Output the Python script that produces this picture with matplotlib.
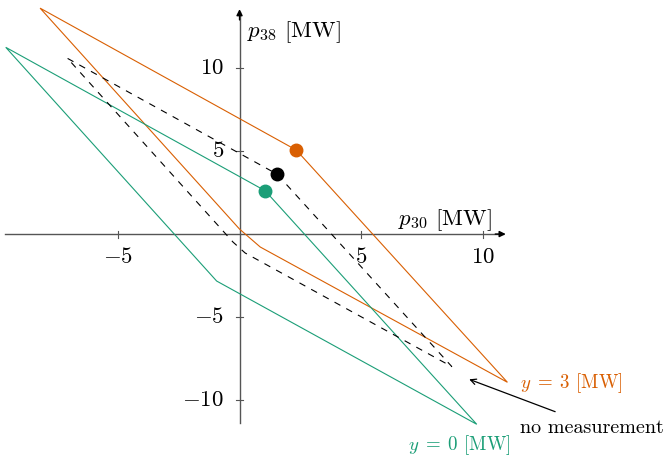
import matplotlib
matplotlib.use("Agg")
import matplotlib.pyplot as plt
import numpy as np

plt.rcParams['mathtext.fontset'] = 'cm'
plt.rcParams['font.family'] = 'serif'
plt.rcParams['font.serif'] = ['cmr10']

# feasible regions (p30, p38) for the two measurements and for no measurement
orange_x = [-8.19, 2.33, 11.0, 0.85, 0.0]
orange_y = [13.61, 5.06, -8.93, -0.78, 0.3]
green_x = [-9.6, 1.05, 9.74, -0.94]
green_y = [11.25, 2.61, -11.46, -2.83]
none_x = [-7.06, 1.54, 8.72, 0.23, -0.27]
none_y = [10.58, 3.61, -7.99, -1.14, -0.48]

# operating points
dot_x = [2.33, 1.05, 1.54]
dot_y = [5.06, 2.61, 3.61]

xticks = [-5, 5, 10]
yticks = [-10, -5, 5, 10]

orange = '#d95f02'
green = '#1b9e77'
axcol = '#555555'

fig = plt.figure(figsize=(6.65, 4.58), dpi=100)
ax = fig.add_axes([0, 0, 1, 1])
ax.set_xlim(-9.836, 17.47)
ax.set_ylim(-13.49, 14.10)
ax.axis('off')

# axes with arrows
ax.plot([-9.63, 10.8], [0, 0], color=axcol, lw=1.0, zorder=1)
ax.plot([0, 0], [-11.39, 13.4], color=axcol, lw=1.0, zorder=1)
ax.annotate('', xy=(10.93, 0), xytext=(10.5, 0),
            arrowprops=dict(arrowstyle='-|>', color='black', lw=1.0,
                            mutation_scale=9, shrinkA=0, shrinkB=0))
ax.annotate('', xy=(0, 13.55), xytext=(0, 12.9),
            arrowprops=dict(arrowstyle='-|>', color='black', lw=1.0,
                            mutation_scale=9, shrinkA=0, shrinkB=0))

dx_t = 3.5 / 24.35
dy_t = 3.5 / 16.6
for t in xticks:
    ax.plot([t, t], [-dy_t, dy_t], color=axcol, lw=0.8, zorder=1)
    ax.text(t, -1.39, r'$%d$' % t, ha='center', va='center', fontsize=16.5)
for t in yticks:
    ax.plot([-dx_t, dx_t], [t, t], color=axcol, lw=0.8, zorder=1)
    ax.text(-0.64, t, r'$%d$' % t, ha='right', va='center', fontsize=16.5)

ax.text(6.51, 0.54, r'$p_{30}$ [MW]', ha='left', va='baseline', fontsize=16.5)
ax.text(0.30, 11.89, r'$p_{38}$ [MW]', ha='left', va='baseline', fontsize=16.5)

ax.fill(orange_x, orange_y, fill=False, edgecolor=orange, lw=0.8, zorder=2)
ax.fill(green_x, green_y, fill=False, edgecolor=green, lw=0.8, zorder=2)
ax.fill(none_x, none_y, fill=False, edgecolor='black', lw=0.8,
        linestyle=(0, (6, 6)), zorder=2)

ax.plot(dot_x[0], dot_y[0], 'o', color=orange, ms=9, zorder=3)
ax.plot(dot_x[1], dot_y[1], 'o', color=green, ms=9, zorder=3)
ax.plot(dot_x[2], dot_y[2], 'o', color='black', ms=9, zorder=3)

ax.text(11.52, -8.96, r'$y\;=\;3$ [MW]', color=orange, ha='left', va='center', fontsize=13.6)
ax.text(6.92, -12.71, r'$y\;=\;0$ [MW]', color=green, ha='left', va='center', fontsize=13.6)
ax.text(11.52, -11.69, 'no measurement', ha='left', va='center', fontsize=14.5)
ax.annotate('', xy=(9.43, -8.75), xytext=(12.96, -10.70),
            arrowprops=dict(arrowstyle='->', color='black', lw=0.9,
                            shrinkA=0, shrinkB=0))

fig.savefig('out.png', dpi=100)
